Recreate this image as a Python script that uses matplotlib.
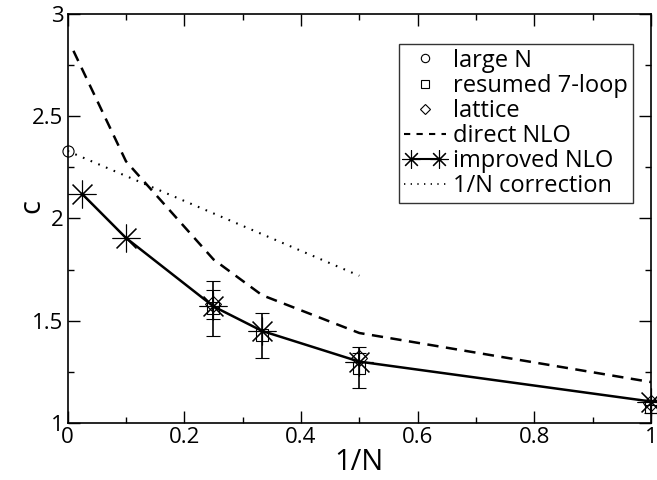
import numpy as np
import matplotlib
matplotlib.use('Agg')
import matplotlib.pyplot as plt
from matplotlib.lines import Line2D
from matplotlib.legend_handler import HandlerLine2D

plt.rcParams['font.family'] = ['Open Sans', 'DejaVu Sans']

# large N
largeN_x = [0.0]
largeN_y = [2.33]

# resumed 7-loop
resum_x = [0.25, 1 / 3, 0.5, 1.0]
resum_y = [1.56, 1.43, 1.27, 1.08]
resum_err = [0.135, 0.11, 0.10, 0.03]

# lattice
latt_x = [0.25, 0.5, 1.0]
latt_y = [1.58, 1.32, 1.10]
latt_err = [0.07, 0.02, 0.01]

# direct NLO
direct_x = [0.01, 0.1, 0.25, 1 / 3, 0.5, 1.0]
direct_y = [2.82, 2.28, 1.80, 1.625, 1.44, 1.20]

# improved NLO
impr_x = [0.025, 0.1, 0.25, 1 / 3, 0.5, 1.0]
impr_y = [2.12, 1.905, 1.57, 1.45, 1.30, 1.105]

# 1/N correction
corr_x = [0.0, 0.5]
corr_y = [2.33, 1.72]

labels = ['large N', 'resumed 7-loop', 'lattice', 'direct NLO', 'improved NLO', '1/N correction']

fig = plt.figure(figsize=(6.57, 4.8), dpi=100)
ax = fig.add_axes([0.1029, 0.1188, 0.8880, 0.852])

dash = (0, (4.5, 3))
dots = (0, (0.8, 3.2))

ax.plot(largeN_x, largeN_y, ls='none', marker='o', ms=8, mfc='none', mec='black',
        mew=0.8, clip_on=False, zorder=5)
ax.errorbar(resum_x, resum_y, yerr=resum_err, fmt='s', ms=8, mfc='none', mec='black',
            mew=0.8, ecolor='black', elinewidth=1.2, capsize=5, capthick=1.2,
            clip_on=False, zorder=4)
ax.errorbar(latt_x, latt_y, yerr=latt_err, fmt='D', ms=8, mfc='none', mec='black',
            mew=0.8, ecolor='black', elinewidth=1.2, capsize=5, capthick=1.2,
            clip_on=False, zorder=4)
ax.plot(direct_x, direct_y, color='black', lw=1.8, ls=dash)
ax.plot(impr_x, impr_y, color='black', lw=1.8, marker=(8, 2, 0), ms=20,
        mew=0.8, clip_on=False, zorder=6)
ax.plot(corr_x, corr_y, color='black', lw=1.5, ls=dots)

ax.set_xlim(0, 1)
ax.set_ylim(1, 3)
ax.set_xticks([0, 0.2, 0.4, 0.6, 0.8, 1.0])
ax.set_xticklabels(['0', '0.2', '0.4', '0.6', '0.8', '1'])
ax.set_xticks(np.arange(0.1, 1.0, 0.2), minor=True)
ax.set_yticks([1, 1.5, 2, 2.5, 3])
ax.set_yticklabels(['1', '1.5', '2', '2.5', '3'])
ax.set_yticks([1.25, 1.75, 2.25, 2.75], minor=True)
ax.tick_params(which='both', direction='in', top=True, right=True, labelsize=16, pad=3)
ax.tick_params(which='major', length=8.5, width=1)
ax.tick_params(which='minor', length=4.5, width=1)
for s in ax.spines.values():
    s.set_linewidth(1.2)

ax.set_xlabel('1/N', fontsize=21, labelpad=0)
ax.set_ylabel('c', fontsize=21)
ax.yaxis.set_label_coords(-0.037, 0.53)

# legend proxies (smaller markers like the original)
h_large = Line2D([], [], ls='none', marker='o', ms=6, mfc='none', mec='black', mew=0.8)
h_resum = Line2D([], [], ls='none', marker='s', ms=5.5, mfc='none', mec='black', mew=0.8)
h_latt = Line2D([], [], ls='none', marker='D', ms=5.5, mfc='none', mec='black', mew=0.8)
h_direct = Line2D([], [], color='black', lw=1.5, ls=(0, (3, 3)))
h_impr = Line2D([], [], color='black', lw=1.5, marker=(8, 2, 0), ms=13, mew=0.8)
h_corr = Line2D([], [], color='black', lw=1.2, ls=dots)

leg = ax.legend([h_large, h_resum, h_latt, h_direct, h_impr, h_corr], labels,
                loc='upper right', bbox_to_anchor=(0.969, 0.927), fontsize=17,
                frameon=True, fancybox=False, borderpad=0.2, labelspacing=0.05,
                handlelength=1.8, handletextpad=0.3, borderaxespad=0,
                handler_map={h_impr: HandlerLine2D(numpoints=2)}, numpoints=1)
leg.get_frame().set_edgecolor('black')
leg.get_frame().set_linewidth(1.0)

fig.savefig('out.png', dpi=100)
